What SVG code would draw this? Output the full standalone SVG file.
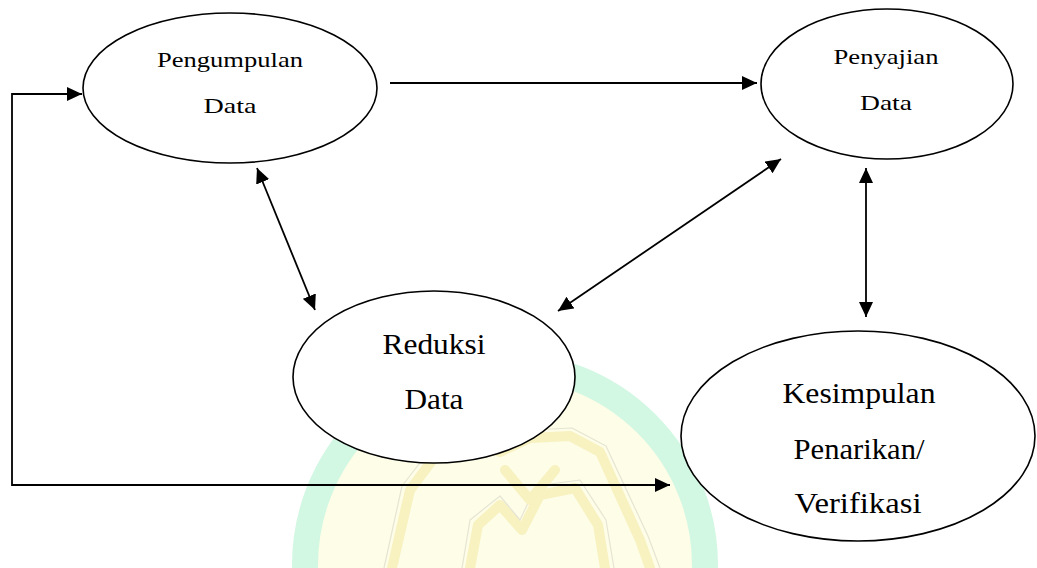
<svg xmlns="http://www.w3.org/2000/svg" width="1037" height="568" viewBox="0 0 1037 568">
  <style>
    .node ellipse { fill: #ffffff; stroke: #000000; stroke-width: 1.6; }
    .node text { fill: #000000; text-anchor: middle; font-family: "Liberation Serif", "Times New Roman", "DejaVu Serif", serif; }
    .small { font-size: 21px; }
    .big { font-size: 30px; }
    .conn { fill: none; stroke: #000000; stroke-width: 1.8; }
    .wm-ring { fill: #fdfde8; stroke: #d2f7e2; stroke-width: 26; }
    .wm-deco { fill: none; stroke: #f8f1c0; stroke-width: 10; stroke-linejoin: round; stroke-linecap: round; }
    .wm-edge { fill: none; stroke: #e6e4d2; stroke-width: 1.2; stroke-linejoin: round; }
  </style>
  <defs>
    <marker id="arrow" viewBox="0 0 15 14" refX="15" refY="7" markerWidth="15" markerHeight="14" markerUnits="userSpaceOnUse" orient="auto-start-reverse">
      <path d="M0,0 L15,7 L0,14 z" fill="#000000"/>
    </marker>
  </defs>
  <rect x="0" y="0" width="1037" height="568" fill="#ffffff"/>

  <g id="watermark">
    <circle class="wm-ring" cx="505" cy="565" r="200"/>
    <path class="wm-deco" d="M392,568 L410,490 L440,450 L470,440 L500,452 L530,438 L570,436 L600,452 L640,540 L650,568"/>
    <path class="wm-edge" d="M384,568 L402,486 L436,442 L470,432 L500,444 L530,430 L572,428 L606,446 L648,536 L660,568"/>
    <path class="wm-deco" d="M470,568 L478,525 L500,505 L522,530 L540,495 L575,488 L598,525 L605,568"/>
    <path class="wm-edge" d="M462,568 L470,520 L500,496 L520,520 L536,486 L580,480 L606,520 L614,568"/>
    <path class="wm-deco" d="M505,470 L530,500 L555,470"/>
  </g>

  <g id="connectors">
    <polyline class="conn" points="82,94 12,94 12,485 670,485" marker-end="url(#arrow)"/>
    <polyline class="conn" points="12,94 82,94" marker-end="url(#arrow)"/>
    <line class="conn" x1="390" y1="83" x2="757" y2="83" marker-end="url(#arrow)"/>
    <line class="conn" x1="257" y1="168" x2="315" y2="310" marker-start="url(#arrow)" marker-end="url(#arrow)"/>
    <line class="conn" x1="781" y1="159" x2="558" y2="311" marker-start="url(#arrow)" marker-end="url(#arrow)"/>
    <line class="conn" x1="866" y1="168" x2="866" y2="317" marker-start="url(#arrow)" marker-end="url(#arrow)"/>
  </g>

  <g id="node-pengumpulan" class="node">
    <ellipse cx="230" cy="88" rx="147" ry="75"/>
    <text class="small" x="230" y="67" textLength="146" lengthAdjust="spacingAndGlyphs">Pengumpulan</text>
    <text class="small" x="230" y="113" textLength="53" lengthAdjust="spacingAndGlyphs">Data</text>
  </g>

  <g id="node-penyajian" class="node">
    <ellipse cx="887" cy="84" rx="126" ry="75"/>
    <text class="small" x="886" y="64" textLength="105" lengthAdjust="spacingAndGlyphs">Penyajian</text>
    <text class="small" x="886" y="110" textLength="52" lengthAdjust="spacingAndGlyphs">Data</text>
  </g>

  <g id="node-reduksi" class="node">
    <ellipse cx="434" cy="377" rx="141" ry="86"/>
    <text class="big" x="434" y="354" textLength="103" lengthAdjust="spacingAndGlyphs">Reduksi</text>
    <text class="big" x="434" y="409" textLength="59" lengthAdjust="spacingAndGlyphs">Data</text>
  </g>

  <g id="node-kesimpulan" class="node">
    <ellipse cx="858" cy="436" rx="177" ry="105"/>
    <text class="big" x="859" y="403" textLength="153" lengthAdjust="spacingAndGlyphs">Kesimpulan</text>
    <text class="big" x="859" y="459" textLength="131" lengthAdjust="spacingAndGlyphs">Penarikan/</text>
    <text class="big" x="858" y="513" textLength="127" lengthAdjust="spacingAndGlyphs">Verifikasi</text>
  </g>
</svg>
